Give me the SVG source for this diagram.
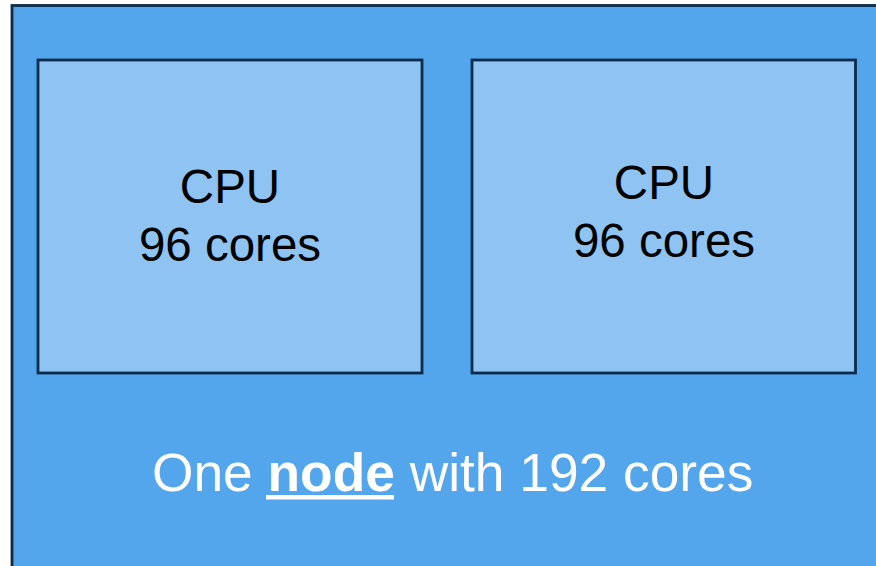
<svg xmlns="http://www.w3.org/2000/svg" width="876" height="566" viewBox="0 0 876 566">
<style>
.outer{fill:#53a6ec;stroke:#0c2b4c;stroke-width:2.8}
.cpu{fill:#8ec3f2;stroke:#0c2b4c;stroke-width:2.8}
.lbl{font-family:"Liberation Sans",Arial,sans-serif;font-size:47.5px;fill:#000;text-anchor:middle}
.cap{font-family:"Liberation Sans",Arial,sans-serif;font-size:53.3px;fill:#fff}
</style>
<rect width="876" height="566" fill="#fff"/>
<g id="node">
<rect class="outer" x="12" y="5.5" width="880" height="580"/>
<text class="cap" x="152" y="491">One <tspan font-weight="bold">node</tspan> with 192 cores</text>
<rect x="266" y="495" width="128" height="4.5" fill="#fff"/>
</g>
<g id="cpu1">
<rect class="cpu" x="38" y="60" width="384" height="313"/>
<text class="lbl" x="230" y="203">CPU</text>
<text class="lbl" x="230" y="261">96 cores</text>
</g>
<g id="cpu2">
<rect class="cpu" x="472" y="60" width="383.5" height="313"/>
<text class="lbl" x="664" y="199">CPU</text>
<text class="lbl" x="664" y="257">96 cores</text>
</g>
<g id="connectors"/>
</svg>
